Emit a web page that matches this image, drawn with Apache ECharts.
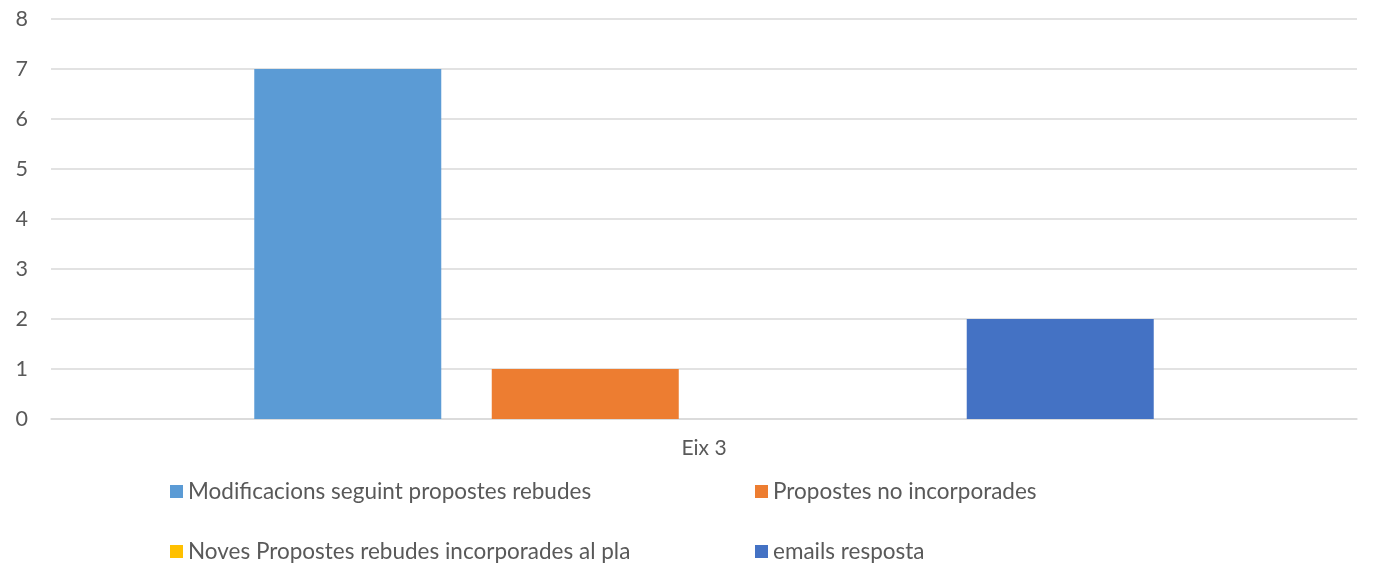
<!DOCTYPE html>
<html>
<head>
<meta charset="utf-8">
<script src="https://cdn.jsdelivr.net/npm/echarts@6/dist/echarts.min.js"></script>
<style>html,body{margin:0;padding:0;background:#fff;}#c{width:1376px;height:565px;}</style>
</head>
<body>
<div id="c"></div>
<script>
const categories = ['Eix 3'];
const seriesNames = ['Modificacions seguint propostes rebudes', 'Propostes no incorporades', 'Noves Propostes rebudes incorporades al pla', 'emails resposta'];
const seriesValues = [[7], [1], [0], [2]];
const seriesColors = ['#5B9BD5', '#ED7D31', '#FFC000', '#4472C4'];
const yTicks = [0, 1, 2, 3, 4, 5, 6, 7, 8];

const FONT = 'Lato, "Open Sans", sans-serif';
const chart = echarts.init(document.getElementById('c'));
const legendCommon = {
  orient: 'horizontal',
  icon: 'rect',
  itemWidth: 13,
  itemHeight: 13,
  itemGap: 17,
  left: 170,
  padding: 0,
  textStyle: { color: '#595959', fontSize: 22.5, fontFamily: FONT, width: 550, overflow: 'none', lineHeight: 20, padding: [0, 0, 0, 0] }
};
chart.setOption({
  animation: false,
  backgroundColor: '#fff',
  grid: { left: 51, right: 19, top: 19, bottom: 146, containLabel: false },
  legend: [
    Object.assign({}, legendCommon, { top: 480, data: [seriesNames[0], seriesNames[1]] }),
    Object.assign({}, legendCommon, { top: 540, data: [seriesNames[2], seriesNames[3]] })
  ],
  xAxis: {
    type: 'category',
    data: categories,
    axisLine: { show: true, lineStyle: { color: '#D9D9D9', width: 1.5 } },
    axisTick: { show: false },
    axisLabel: { color: '#595959', fontSize: 21, fontFamily: FONT, margin: 19 }
  },
  yAxis: {
    type: 'value',
    min: yTicks[0],
    max: yTicks[yTicks.length - 1],
    interval: 1,
    axisLine: { show: false },
    axisTick: { show: false },
    axisLabel: { color: '#595959', fontSize: 21.5, fontFamily: FONT, margin: 23 },
    splitLine: { lineStyle: { color: '#D9D9D9', width: 1.5 } }
  },
  series: seriesNames.map((n, i) => ({
    name: n,
    type: 'bar',
    data: seriesValues[i],
    barWidth: 187,
    barGap: '27%',
    itemStyle: { color: seriesColors[i] }
  }))
});
</script>
</body>
</html>
